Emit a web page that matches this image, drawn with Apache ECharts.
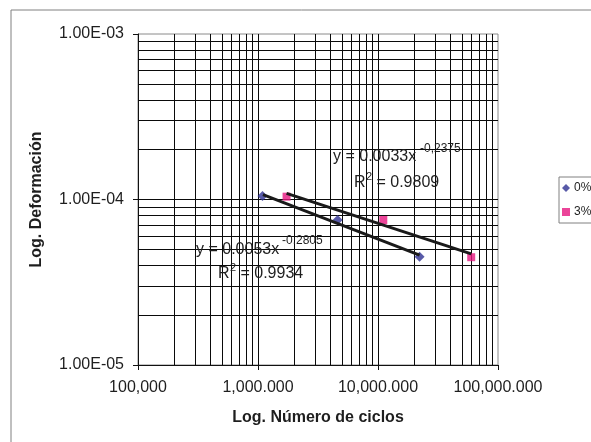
<!DOCTYPE html>
<html><head><meta charset="utf-8">
<script src="https://cdn.jsdelivr.net/npm/echarts@6/dist/echarts.min.js"></script>
<style>html,body{margin:0;padding:0;background:#fff}#c{width:591px;height:442px}</style>
</head><body><div id="c"></div>
<script>
// ---- data ----
const seriesNames = ['0%', '3%'];
const ciclos0 = [1.09e6, 4.61e6, 2.22e7];
const deform0 = [1.05e-4, 7.52e-5, 4.51e-5];
const ciclos3 = [1.73e6, 1.107e7, 5.98e7];
const deform3 = [1.04e-4, 7.52e-5, 4.48e-5];
// trendline end points
const trendX0 = [1.10e6, 2.22e7];
const trendY0 = [1.07e-4, 4.61e-5];
const trendX3 = [1.73e6, 5.98e7];
const trendY3 = [1.09e-4, 4.69e-5];
const xTickLabels = ['100,000', '1,000.000', '10,000.000', '100,000.000'];
const yTickLabels = ['1.00E-05', '1.00E-04', '1.00E-03'];
const eq0 = ['y = 0.0053x', '-0.2805', '0.9934'];
const eq3 = ['y = 0.0033x', '-0,2375', '0.9809'];

const FONT = '"Liberation Sans", Arial, sans-serif';
const zip = (a, b) => a.map((v, i) => [v, b[i]]);
const X_MIN = 1e5, X_MAX = 1e8, Y_MIN = 1e-5, Y_MAX = 1e-3;

// gridline values (interior 1..9 x decade)
const xGrid = [], yGrid = [];
[1e5, 1e6, 1e7].forEach((d, k) => { for (let m = 1; m <= 9; m++) { if (!(k === 0 && m === 1)) xGrid.push(m * d); } });
[1e-5, 1e-4].forEach((d, k) => { for (let m = 1; m <= 9; m++) { if (!(k === 0 && m === 1)) yGrid.push(m * d); } });
const gridSegs = xGrid.map(v => ({coords: [[v, Y_MIN], [v, Y_MAX]]}))
  .concat(yGrid.map(v => ({coords: [[X_MIN, v], [X_MAX, v]]})));

const chart = echarts.init(document.getElementById('c'), null, {renderer: 'canvas'});
const txt = (x, y, s, size) => ({type: 'text', left: x, top: y - size * 0.58, style: {text: s, font: size + 'px ' + FONT, fill: '#1e1e1e'}, z: 50});

chart.setOption({
  animation: false,
  backgroundColor: '#fff',
  grid: {left: 138, right: 93, top: 34, bottom: 77, show: true, borderColor: '#8a8a8a', borderWidth: 1, backgroundColor: 'transparent'},
  xAxis: {
    type: 'log', logBase: 10, min: X_MIN, max: X_MAX,
    name: 'Log. Número de ciclos', nameLocation: 'middle', nameGap: 45,
    nameTextStyle: {fontFamily: FONT, fontSize: 16, fontWeight: 'bold', color: '#1e1e1e'},
    axisLine: {show: true, onZero: false, lineStyle: {color: '#111', width: 1}},
    axisTick: {show: true, inside: false, length: 5, lineStyle: {color: '#111'}},
    axisLabel: {margin: 15, fontFamily: FONT, fontSize: 16, color: '#1e1e1e',
      formatter: (v) => xTickLabels[Math.round(Math.log10(v)) - 5]},
    splitLine: {show: false}, minorTick: {show: false}
  },
  yAxis: {
    type: 'log', logBase: 10, min: Y_MIN, max: Y_MAX,
    name: 'Log. Deformación', nameLocation: 'middle', nameGap: 93,
    nameTextStyle: {fontFamily: FONT, fontSize: 16, fontWeight: 'bold', color: '#1e1e1e'},
    axisLine: {show: true, onZero: false, lineStyle: {color: '#111', width: 1}},
    axisTick: {show: true, inside: false, length: 5, lineStyle: {color: '#111'}},
    axisLabel: {margin: 14, fontFamily: FONT, fontSize: 16, color: '#1e1e1e',
      formatter: (v) => yTickLabels[Math.round(Math.log10(v)) + 5]},
    splitLine: {show: false}
  },
  legend: {
    orient: 'vertical', left: 559, top: 177,
    padding: [5, 30, 5, 3], itemGap: 12, itemWidth: 8, itemHeight: 8,
    borderColor: '#808080', borderWidth: 1, backgroundColor: '#fff',
    textStyle: {fontFamily: FONT, fontSize: 12, color: '#1e1e1e', padding: [0, 0, 0, -1]},
    data: [{name: seriesNames[0], icon: 'diamond'}, {name: seriesNames[1], icon: 'rect'}]
  },
  series: [
    {
      name: 'grid', type: 'lines', coordinateSystem: 'cartesian2d', silent: true, z: 1,
      symbol: ['none', 'none'],
      lineStyle: {color: '#0a0a0a', width: 1, opacity: 1, curveness: 0},
      emphasis: {disabled: true},
      data: gridSegs
    },
    {name: seriesNames[0], type: 'scatter', symbol: 'diamond', symbolSize: 10, z: 3,
      itemStyle: {color: '#2e3192'}, data: zip(ciclos0, deform0)},
    {name: seriesNames[1], type: 'scatter', symbol: 'rect', symbolSize: 8, z: 3,
      itemStyle: {color: '#e6177f'}, data: zip(ciclos3, deform3)},
    {name: 'trend0', type: 'line', showSymbol: false, symbol: 'none', z: 4,
      lineStyle: {color: '#1a1a1a', width: 3}, data: zip(trendX0, trendY0)},
    {name: 'trend3', type: 'line', showSymbol: false, symbol: 'none', z: 4,
      lineStyle: {color: '#1a1a1a', width: 3}, data: zip(trendX3, trendY3)}
  ],
  graphic: [
    {type: 'rect', shape: {x: 11, y: 10, width: 1000, height: 1000}, style: {fill: 'none', stroke: '#808080', lineWidth: 1}, z: 0, silent: true},
    txt(333, 158, eq3[0], 16), txt(420, 150, eq3[1], 12),
    txt(354, 184, 'R', 16), txt(366, 178, '2', 11), txt(372, 184, ' = ' + eq3[2], 16),
    txt(196, 251, eq0[0], 16), txt(282, 242, eq0[1], 12),
    txt(218, 275, 'R', 16), txt(230, 269, '2', 11), txt(236, 275, ' = ' + eq0[2], 16)
  ]
});
</script></body></html>
